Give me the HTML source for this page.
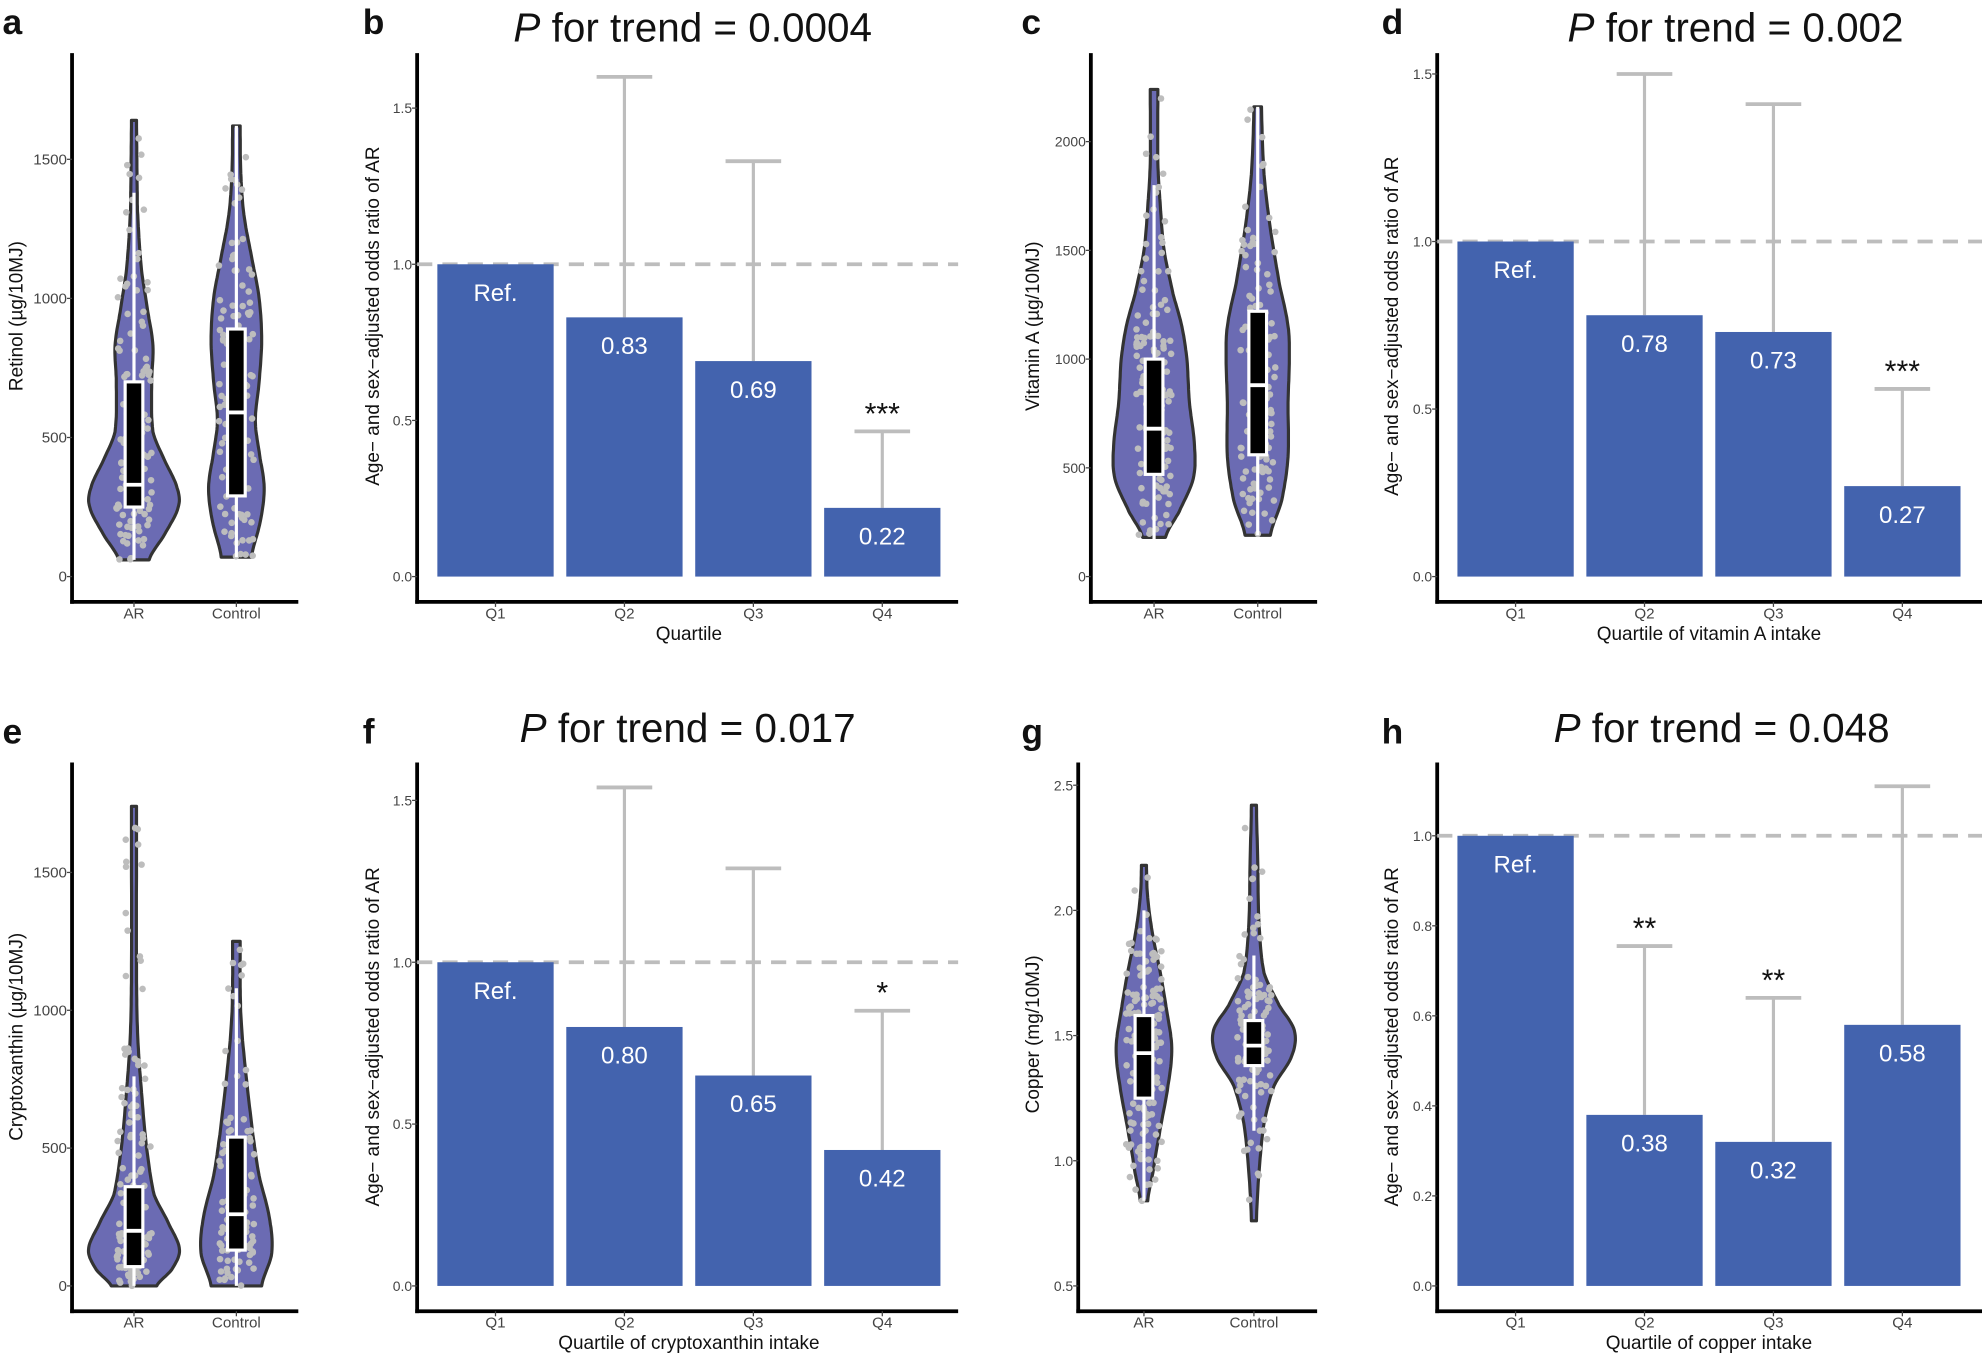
<!DOCTYPE html>
<html><head><meta charset="utf-8"><style>
html,body{margin:0;padding:0;background:#fff;}
svg{display:block;}
text{font-family:"Liberation Sans",Arial,sans-serif;}
</style></head><body>
<svg id="s" xmlns="http://www.w3.org/2000/svg" width="1982" height="1358" viewBox="0 0 1568 1074" preserveAspectRatio="none">
<g id="g"></g>
</svg>
<script>
var NS="http://www.w3.org/2000/svg",G=document.getElementById('g');
function el(t,a,txt){var e=document.createElementNS(NS,t);for(var k in a)e.setAttribute(k,a[k]);if(txt!=null)e.textContent=txt;G.appendChild(e);return e;}
function line(x1,y1,x2,y2,c,w,extra){var a={x1:x1,y1:y1,x2:x2,y2:y2,stroke:c,'stroke-width':w};for(var k in extra)a[k]=extra[k];return el('line',a);}
function txt(x,y,s,sz,c,anchor,extra){var a={x:x,y:y,'font-size':sz,fill:c,'text-anchor':anchor||'middle'};for(var k in extra)a[k]=extra[k];return el('text',a,s);}
var seed=7;function rnd(){seed=(seed*16807)%2147483647;return seed/2147483647;}
function letter(x,y,s){txt(x,y,s,28,'#111','start',{'font-weight':'bold'});}
function axes(ax,top,bot,right){line(ax,top,ax,bot+1.5,'#000',3);line(ax-1.5,bot,right,bot,'#000',3);}
function ytick(ax,y,s,sz){line(ax-4,y,ax,y,'#444',1);txt(ax-4,y+4,s,sz||12,'#444','end');}
function ytitle(x,y,s,sz){txt(x,y,s,sz||15,'#111','middle',{transform:'rotate(-90 '+x+' '+y+')'});}
function title(x,y,p){var t=el('text',{x:x,y:y,'font-size':32,fill:'#111','text-anchor':'middle'});var a=document.createElementNS(NS,'tspan');a.setAttribute('font-style','italic');a.textContent='P';t.appendChild(a);t.appendChild(document.createTextNode(' for trend = '+p));}

function violin(cx,ymap,prof,box,wh,n){
  var L=[],R=[];
  for(var i=0;i<prof.length-1;i++){
    var a=prof[i],b=prof[i+1];
    var p0=prof[Math.max(0,i-1)],p3=prof[Math.min(prof.length-1,i+2)];
    for(var t=0;t<1;t+=0.1){
      var t2=t*t,t3=t2*t;
      var h=0.5*((2*a[1])+(-p0[1]+b[1])*t+(2*p0[1]-5*a[1]+4*b[1]-p3[1])*t2+(-p0[1]+3*a[1]-3*b[1]+p3[1])*t3);
      var v=a[0]+(b[0]-a[0])*t;
      if(h<1)h=1;
      L.push([cx-h,ymap(v)]);R.push([cx+h,ymap(v)]);
    }
  }
  var last=prof[prof.length-1];L.push([cx-last[1],ymap(last[0])]);R.push([cx+last[1],ymap(last[0])]);
  var d='M'+L.map(function(p){return p[0].toFixed(1)+','+p[1].toFixed(1);}).join(' L');
  d+=' L'+R.reverse().map(function(p){return p[0].toFixed(1)+','+p[1].toFixed(1);}).join(' L')+' Z';
  el('path',{d:d,fill:'#6b6bb3',stroke:'#333','stroke-width':2.5,'stroke-linejoin':'round'});
  function hwAt(v){for(var i=0;i<prof.length-1;i++){if(v>=prof[i][0]&&v<=prof[i+1][0]){var f=(v-prof[i][0])/(prof[i+1][0]-prof[i][0]);return prof[i][1]+f*(prof[i+1][1]-prof[i][1]);}}return 2;}
  var maxw=0;prof.forEach(function(p){if(p[1]>maxw)maxw=p[1];});
  var lo=prof[0][0],hi=last[0],c=0,tries=0;
  while(c<n&&tries<20000){tries++;var v=lo+(hi-lo)*rnd();var hw=hwAt(v);if(rnd()*maxw>hw)continue;
    var x=cx+(rnd()*2-1)*Math.min(14,hw+5);el('circle',{cx:x.toFixed(1),cy:ymap(v).toFixed(1),r:2.6,fill:'#bdbdbd'});c++;}
  line(cx,ymap(wh[0]),cx,ymap(wh[1]),'#fff',2.5);
  var yt=ymap(box[2]),yb=ymap(box[0]),ym=ymap(box[1]);
  el('rect',{x:cx-7,y:yt,width:14,height:yb-yt,fill:'#000',stroke:'#fff','stroke-width':2.5});
  line(cx-7,ym,cx+7,ym,'#fff',3);
}

function barPanel(ax,x1,top,bot,right,y0,pu,ticks,vals,ups,labels,stars,xtitle,tsz){
  axes(ax,top,bot,right);
  ticks.forEach(function(t){ytick(ax,y0-t*pu,t.toFixed(1),tsz);});
  var xs=[0,102,204,306].map(function(x){return x+x1;});
  line(ax,y0-pu,right,y0-pu,'#bdbdbd',3,{'stroke-dasharray':'12,8'});
  for(var i=0;i<4;i++){
    var x=xs[i],yt=y0-vals[i]*pu;
    if(ups[i]){line(x,yt,x,y0-ups[i]*pu,'#bdbdbd',2.5);line(x-22,y0-ups[i]*pu,x+22,y0-ups[i]*pu,'#bdbdbd',3);}
    el('rect',{x:x-46,y:yt,width:92,height:y0-yt,fill:'#4363ae'});
    txt(x,yt+29,labels[i],19,'#fff');
    if(stars[i])txt(x,y0-ups[i]*pu-6,stars[i],24,'#111');
    line(x,bot,x,bot+4,'#444',1);
    txt(x,bot+13,'Q'+(i+1),12,'#444');
  }
  txt((xs[0]+xs[3])/2,bot+30,xtitle,15,'#111');
}

// ===== Panel a =====
letter(2,27,'a');
(function(){var ax=57,top=42,bot=476,y0=456,pu=110/500;axes(ax,top,bot,236);
[0,500,1000,1500].forEach(function(t){ytick(ax,y0-t*pu,t);});
ytitle(18,250,'Retinol (\u00b5g/10MJ)');
var m=function(v){return y0-v*pu;};
violin(106,m,[[60,12],[150,24],[250,35],[320,34],[420,24],[520,15],[700,14],[830,15],[950,11],[1100,6],[1300,3],[1400,2.5],[1640,2]],[250,330,700],[60,1380],110);
violin(187,m,[[70,12],[200,19],[320,22],[450,18],[560,15],[700,18],[850,20],[1000,18],[1150,12],[1300,6],[1450,3.5],[1620,3]],[290,590,890],[70,1620],100);
[106,187].forEach(function(x,i){line(x,bot,x,bot+4,'#444',1);txt(x,bot+13,['AR','Control'][i],12,'#444');});
})();

// ===== Panel b =====
letter(287,27,'b');title(548,33,'0.0004');
barPanel(330,392,42,476,758,456,247,[0,0.5,1,1.5],[1,0.83,0.69,0.22],[0,1.6,1.33,0.465],['Ref.','0.83','0.69','0.22'],['','','','***'],'Quartile',11);
ytitle(300,250,'Age\u2212 and sex\u2212adjusted odds ratio of AR');

// ===== Panel c =====
letter(808,27,'c');
(function(){var ax=863,top=42,bot=476,y0=456,pu=86/500;axes(ax,top,bot,1042);
[0,500,1000,1500,2000].forEach(function(t){ytick(ax,y0-t*pu,t,11);});
ytitle(822,258,'Vitamin A (\u00b5g/10MJ)');
var m=function(v){return y0-v*pu;};
violin(913,m,[[180,9],[300,20],[450,31],[600,32],[800,28],[1000,26],[1150,22],[1300,15],[1500,8],[1700,5],[1900,3],[2240,3]],[470,680,1000],[170,1800],150);
violin(995,m,[[190,10],[350,19],[550,24],[800,24],[1000,25],[1150,24],[1350,17],[1600,10],[1850,5],[2160,3]],[560,880,1220],[190,2160],120);
[913,995].forEach(function(x,i){line(x,bot,x,bot+4,'#444',1);txt(x,bot+13,['AR','Control'][i],12,'#444');});
})();

// ===== Panel d =====
letter(1093,27,'d');title(1373,33,'0.002');
barPanel(1137,1199,42,476,1568,456,265,[0,0.5,1,1.5],[1,0.78,0.73,0.27],[0,1.5,1.41,0.56],['Ref.','0.78','0.73','0.27'],['','','','***'],'Quartile of vitamin A intake',11);
ytitle(1106,258,'Age\u2212 and sex\u2212adjusted odds ratio of AR');

// ===== Panel e =====
letter(2,588,'e');
(function(){var ax=57,top=603,bot=1037,y0=1017,pu=109/500;axes(ax,top,bot,236);
[0,500,1000,1500].forEach(function(t){ytick(ax,y0-t*pu,t);});
ytitle(18,820,'Cryptoxanthin (\u00b5g/10MJ)');
var m=function(v){return y0-v*pu;};
violin(106,m,[[0,18],[60,30],[130,36],[220,28],[330,16],[500,10],[700,6],[900,3],[1100,2],[1740,2]],[70,200,360],[0,760],120);
violin(187,m,[[0,20],[120,28],[250,26],[400,18],[550,13],[750,8],[950,4],[1100,3],[1250,3]],[130,260,540],[0,1080],100);
[106,187].forEach(function(x,i){line(x,bot,x,bot+4,'#444',1);txt(x,bot+13,['AR','Control'][i],12,'#444');});
})();

// ===== Panel f =====
letter(287,588,'f');title(544,587,'0.017');
barPanel(330,392,603,1037,758,1017,256,[0,0.5,1,1.5],[1,0.80,0.65,0.42],[0,1.54,1.29,0.85],['Ref.','0.80','0.65','0.42'],['','','','*'],'Quartile of cryptoxanthin intake',11);
ytitle(300,820,'Age\u2212 and sex\u2212adjusted odds ratio of AR');

// ===== Panel g =====
letter(808,588,'g');
(function(){var ax=853,top=603,bot=1037,y0=1017,pu=198;axes(ax,top,bot,1042);
[0.5,1,1.5,2,2.5].forEach(function(t){ytick(ax,y0-(t-0.5)*pu,t.toFixed(1),11);});
ytitle(822,818,'Copper (mg/10MJ)');
var m=function(v){return y0-(v-0.5)*pu;};
violin(905,m,[[0.84,3],[0.95,7],[1.1,12],[1.3,19],[1.45,22],[1.6,18],[1.75,13],[1.9,7],[2.05,3],[2.18,2]],[1.25,1.43,1.58],[0.84,2.0],150);
violin(992,m,[[0.76,2],[0.95,4],[1.15,8],[1.3,16],[1.42,30],[1.52,32],[1.62,20],[1.75,8],[1.95,4],[2.2,3],[2.42,2]],[1.38,1.46,1.56],[1.12,1.82],110);
[905,992].forEach(function(x,i){line(x,bot,x,bot+4,'#444',1);txt(x,bot+13,['AR','Control'][i],12,'#444');});
})();

// ===== Panel h =====
letter(1093,588,'h');title(1362,587,'0.048');
barPanel(1137,1199,603,1037,1568,1017,356,[0,0.2,0.4,0.6,0.8,1],[1,0.38,0.32,0.58],[0,0.755,0.64,1.11],['Ref.','0.38','0.32','0.58'],['','**','**',''],'Quartile of copper intake',11);
ytitle(1106,820,'Age\u2212 and sex\u2212adjusted odds ratio of AR');
</script>
</body></html>
